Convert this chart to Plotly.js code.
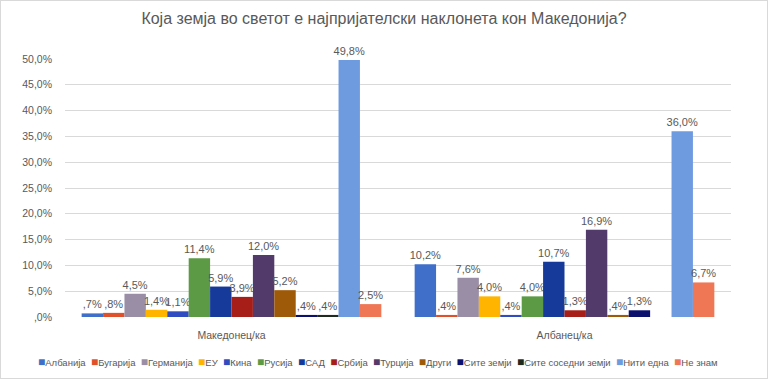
<!DOCTYPE html>
<html>
<head>
<meta charset="utf-8">
<script src="https://cdn.plot.ly/plotly-3.0.1.min.js"></script>
<style>
html,body{margin:0;padding:0;background:#fff;}
#chart{width:766px;height:377px;border:1px solid #d9d9d9;}
</style>
</head>
<body>
<div id="chart"></div>
<script>
var categories = ["Македонец/ка", "Албанец/ка"];
var seriesNames = ["Албанија","Бугарија","Германија","ЕУ","Кина","Русија","САД","Србија","Турција","Други","Сите земји","Сите соседни земји","Нити една","Не знам"];
var seriesColors = ["#3F6FC9","#E0502A","#9A8DA6","#FFB400","#2F4CC0","#5C9A46","#163A9A","#A71D17","#523A6B","#9E5A08","#0D116E","#1E2B1F","#6E9BE0","#EF7756"];
// values [Македонец/ка, Албанец/ка] in %
var albanija   = [0.7, 10.2];
var bugarija   = [0.8, 0.4];
var germanija  = [4.5, 7.6];
var eu         = [1.4, 4.0];
var kina       = [1.1, 0.4];
var rusija     = [11.4, 4.0];
var sad        = [5.9, 10.7];
var srbija     = [3.9, 1.3];
var turcija    = [12.0, 16.9];
var drugi      = [5.2, 0.4];
var siteZemji  = [0.4, 1.3];
var siteSosedni= [0.4, null];
var nituEdna   = [49.8, 36.0];
var neZnam     = [2.5, 6.7];
var seriesValues = [albanija,bugarija,germanija,eu,kina,rusija,sad,srbija,turcija,drugi,siteZemji,siteSosedni,nituEdna,neZnam];
var tickVals = [0,5,10,15,20,25,30,35,40,45,50];
var tickText = [",0%","5,0%","10,0%","15,0%","20,0%","25,0%","30,0%","35,0%","40,0%","45,0%","50,0%"];

function fmt(v){
  if (v === null) return "";
  var s = v.toFixed(1).replace(".", ",");
  if (s.indexOf("0,") === 0) s = s.substring(1);
  return s + "%";
}

var font = "Liberation Sans, Arial, sans-serif";
var traces = seriesNames.map(function(n, i){
  return {
    type: "bar",
    name: n,
    x: categories,
    y: seriesValues[i],
    text: seriesValues[i].map(fmt),
    textposition: "outside",
    constraintext: "none",
    cliponaxis: false,
    textfont: {family: font, size: 11, color: "#595959"},
    marker: {color: seriesColors[i]},
    hoverinfo: "none",
    showlegend: false
  };
});

var legendText = seriesNames.map(function(n, i){
  return "<span style='color:" + seriesColors[i] + ";font-size:12px'>■</span>" + n;
}).join("\u00a0\u00a0");

var layout = {
  width: 766, height: 377,
  margin: {l: 64, r: 36, t: 58, b: 61},
  paper_bgcolor: "#ffffff",
  plot_bgcolor: "#ffffff",
  barmode: "group",
  bargap: 0.1,
  bargroupgap: 0,
  title: {text: "Која земја во светот е најпријателски наклонета кон Македонија?",
          x: 0.5, xanchor: "center", y: 0.955, yanchor: "middle",
          font: {family: font, size: 16, color: "#595959"}},
  xaxis: {type: "category", showgrid: false, zeroline: false, showline: false,
          ticks: "", ticklabelstandoff: 10,
          tickfont: {family: font, size: 10.5, color: "#595959"}},
  yaxis: {range: [0, 50], tickvals: tickVals, ticktext: tickText,
          showgrid: true, gridcolor: "#d9d9d9", gridwidth: 1, zeroline: false,
          showline: false, ticks: "", ticklabelstandoff: 12,
          tickfont: {family: font, size: 10.5, color: "#595959"}},
  annotations: [{
    text: legendText, xref: "paper", yref: "paper", x: 0.47, y: -0.175,
    xanchor: "center", yanchor: "middle", showarrow: false,
    font: {family: font, size: 9.5, color: "#595959"}
  }]
};

Plotly.newPlot("chart", traces, layout, {displayModeBar: false, staticPlot: true});
</script>
</body>
</html>
